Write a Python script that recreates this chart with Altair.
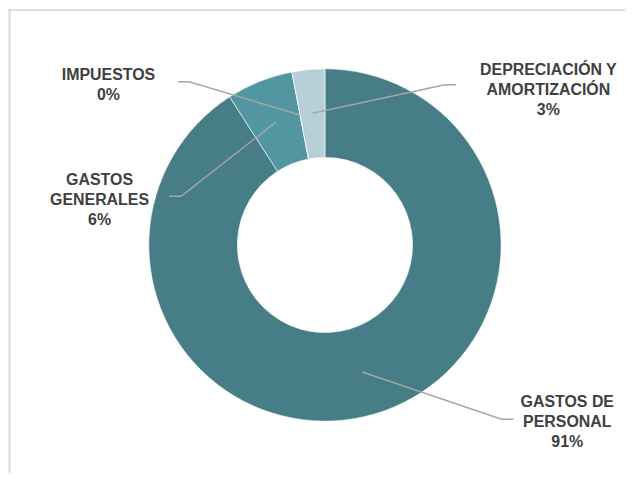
import math
import altair as alt
import pandas as pd

# ---- data ----
categorias = ["GASTOS DE PERSONAL", "GASTOS GENERALES", "IMPUESTOS", "DEPRECIACIÓN Y AMORTIZACIÓN"]
valores = [90.9, 6.1, 0.0, 3.0]
etiquetas = ["GASTOS DE\nPERSONAL\n91%", "GASTOS\nGENERALES\n6%", "IMPUESTOS\n0%", "DEPRECIACIÓN Y\nAMORTIZACIÓN\n3%"]
colores = ["#467d87", "#5296a1", "#8fb8c0", "#b7d0d7"]

# ---- layout (pixels within the chart) ----
W, H = 620, 466
CX, CY = 318.5, 237
R_OUT, R_IN = 177, 88
R_MID = 133
label_pos = [(562, 400), (92, 177), (101, 71.5), (543, 66.5)]  # first-line baselines
elbows = [[(496, 412), (508, 412)], [(174, 188), (162, 188)],
          [(182, 73), (171, 73)], [(439, 76), (450, 76)]]

df = pd.DataFrame({"cat": categorias, "val": valores, "orden": range(4)})

# leader lines start at mid-angle of each slice
total = sum(valores)
rows = []
acc = 0.0
for i, v in enumerate(valores):
    mid = (acc + v / 2) / total * 2 * math.pi
    acc += v
    sx = CX + R_MID * math.sin(mid)
    sy = CY - R_MID * math.cos(mid)
    pts = [(sx, sy)] + elbows[i]
    for k, (px, py) in enumerate(pts):
        rows.append({"cat": categorias[i], "k": k, "px": px, "py": py})
lines_df = pd.DataFrame(rows)

lab_df = pd.DataFrame({
    "cat": categorias,
    "txt": etiquetas,
    "px": [p[0] for p in label_pos],
    "py": [p[1] for p in label_pos],
})

xs = alt.Scale(domain=[0, W], nice=False, zero=False)
ys = alt.Scale(domain=[0, H], nice=False, zero=False, reverse=True)

arc = alt.Chart(df).mark_arc(
    outerRadius=R_OUT, innerRadius=R_IN, stroke="white", strokeWidth=0.6
).encode(
    theta=alt.Theta("val:Q", stack=True),
    order=alt.Order("orden:Q"),
    color=alt.Color("cat:N", scale=alt.Scale(domain=categorias, range=colores), legend=None),
    x=alt.value(CX),
    y=alt.value(CY),
)

lines = alt.Chart(lines_df).mark_line(color="#a6a6a6", strokeWidth=1.5).encode(
    x=alt.X("px:Q", scale=xs, axis=None),
    y=alt.Y("py:Q", scale=ys, axis=None),
    detail="cat:N",
    order="k:Q",
)

labels = alt.Chart(lab_df).mark_text(
    font="Liberation Sans", fontSize=16, fontWeight="bold", color="#404040",
    align="center", baseline="alphabetic", lineBreak="\n", lineHeight=20,
).encode(
    x=alt.X("px:Q", scale=xs, axis=None),
    y=alt.Y("py:Q", scale=ys, axis=None),
    text="txt:N",
)

frame_left = alt.Chart(alt.Data(values=[{}])).mark_rule(color="#d9d9d9", strokeWidth=2).encode(
    x=alt.value(1.5), y=alt.value(0), y2=alt.value(H)
)
frame_top = alt.Chart(alt.Data(values=[{}])).mark_rule(color="#d9d9d9", strokeWidth=2).encode(
    x=alt.value(0.5), x2=alt.value(W), y=alt.value(1)
)

chart = alt.layer(frame_left, frame_top, arc, lines, labels).properties(
    width=W, height=H, padding=0, autosize=alt.AutoSizeParams(type="none")
).configure_view(stroke=None).resolve_scale(x="shared", y="shared")

chart.save("out.html", embed_options={"renderer": "svg", "actions": False})
